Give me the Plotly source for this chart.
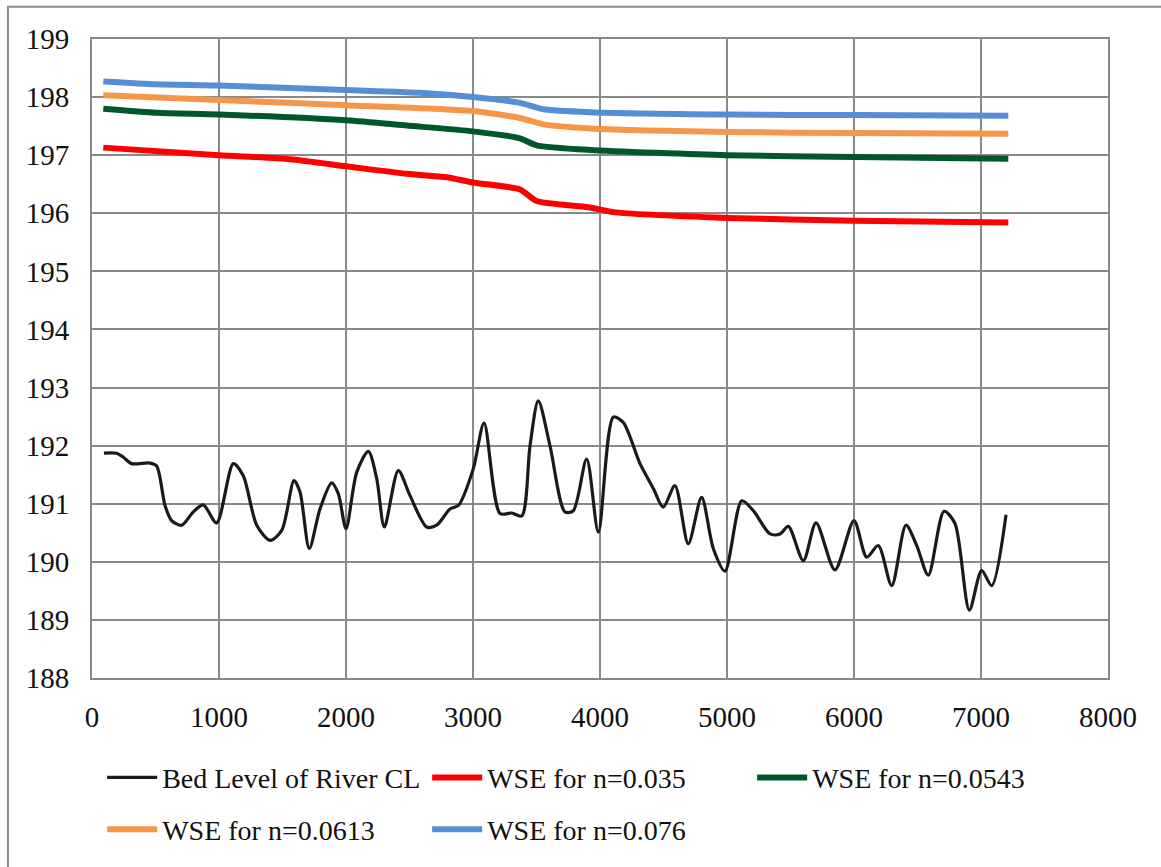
import plotly.graph_objects as go

# Chainage along the river centre line (m) and bed level (m)
bed_x = [94, 194, 247, 312, 457, 509, 575, 627, 706, 798, 876, 981, 1113, 1191,
         1297, 1402, 1494, 1591, 1638, 1711, 1795, 1887, 1940, 2000, 2084, 2176,
         2242, 2302, 2412, 2504, 2635, 2714, 2819, 2885, 3002, 3087, 3213, 3305,
         3384, 3449, 3514, 3606, 3724, 3790, 3895, 3987, 4105, 4183, 4315, 4420,
         4498, 4590, 4695, 4800, 4892, 4984, 5116, 5207, 5339, 5417, 5483, 5601,
         5701, 5850, 6000, 6100, 6191, 6297, 6409, 6494, 6585, 6709, 6795, 6908,
         7005, 7084, 7197]
bed_y = [191.87, 191.87, 191.80, 191.69, 191.70, 191.65, 190.97, 190.71, 190.63,
         190.86, 190.98, 190.67, 191.69, 191.48, 190.63, 190.37, 190.54, 191.40,
         191.20, 190.23, 190.91, 191.36, 191.17, 190.57, 191.54, 191.90, 191.43,
         190.60, 191.57, 191.14, 190.60, 190.63, 190.91, 190.97, 191.60, 192.39,
         190.83, 190.84, 190.79, 192.00, 192.77, 192.00, 190.86, 190.88, 191.77,
         190.51, 192.49, 192.40, 191.69, 191.26, 190.94, 191.31, 190.31, 191.11,
         190.23, 189.84, 191.05, 190.88, 190.48, 190.48, 190.61, 190.02, 190.67,
         189.86, 190.71, 190.08, 190.28, 189.59, 190.63, 190.28, 189.77, 190.87,
         190.66, 189.17, 189.85, 189.59, 190.81]

# Water surface elevation for each Manning's n
wse_035_x = [89, 1000, 1559, 2000, 2478, 2793, 3000, 3370, 3501, 3921, 4105, 5000, 6000, 7215]
wse_035_y = [197.13, 197.00, 196.93, 196.81, 196.68, 196.62, 196.53, 196.41, 196.21,
             196.10, 196.02, 195.92, 195.87, 195.84]

wse_0543_x = [89, 509, 1000, 2000, 2478, 3000, 3370, 3501, 3921, 5000, 6000, 7215]
wse_0543_y = [197.80, 197.73, 197.70, 197.60, 197.51, 197.41, 197.29, 197.17, 197.09,
              197.00, 196.97, 196.94]

wse_0613_x = [89, 1000, 2000, 3000, 3370, 3554, 3921, 5000, 6000, 7215]
wse_0613_y = [198.03, 197.95, 197.86, 197.76, 197.64, 197.53, 197.46, 197.40, 197.38, 197.37]

wse_076_x = [89, 509, 1000, 2000, 2609, 3000, 3370, 3554, 3921, 5000, 6000, 7215]
wse_076_y = [198.27, 198.22, 198.20, 198.12, 198.07, 198.00, 197.90, 197.79, 197.74,
             197.70, 197.69, 197.68]

x_ticks = [0, 1000, 2000, 3000, 4000, 5000, 6000, 7000, 8000]
y_ticks = [188, 189, 190, 191, 192, 193, 194, 195, 196, 197, 198, 199]

FONT = "Liberation Serif, Times New Roman, serif"
GRID = "#898989"
TEXT = "#111111"

fig = go.Figure()
fig.add_trace(go.Scatter(x=bed_x, y=bed_y, mode="lines", name="Bed Level of River CL",
                         line=dict(color="#1a1a1a", width=3.2, shape="spline", smoothing=0.8),
                         legend="legend"))
fig.add_trace(go.Scatter(x=wse_035_x, y=wse_035_y, mode="lines", name="WSE for n=0.035",
                         line=dict(color="#ff0000", width=6, shape="spline", smoothing=0.6),
                         legend="legend"))
fig.add_trace(go.Scatter(x=wse_0543_x, y=wse_0543_y, mode="lines", name="WSE for n=0.0543",
                         line=dict(color="#00582a", width=6, shape="spline", smoothing=0.6),
                         legend="legend"))
fig.add_trace(go.Scatter(x=wse_0613_x, y=wse_0613_y, mode="lines", name="WSE for n=0.0613",
                         line=dict(color="#f79646", width=6, shape="spline", smoothing=0.6),
                         legend="legend2"))
fig.add_trace(go.Scatter(x=wse_076_x, y=wse_076_y, mode="lines", name="WSE for n=0.076",
                         line=dict(color="#558ed5", width=6, shape="spline", smoothing=0.6),
                         legend="legend2"))

legend_common = dict(orientation="h", xanchor="left", yanchor="middle",
                     font=dict(family=FONT, size=28, color=TEXT),
                     entrywidth=260, entrywidthmode="pixels", itemwidth=50,
                     bgcolor="rgba(0,0,0,0)", traceorder="normal")

fig.update_layout(
    width=1161, height=867,
    margin=dict(l=92, r=53, t=39, b=187),
    paper_bgcolor="white", plot_bgcolor="white",
    font=dict(family=FONT, size=28, color=TEXT),
    showlegend=True,
    legend=dict(x=0.010, y=-0.156, **legend_common),
    legend2=dict(x=0.010, y=-0.237, **legend_common),
    xaxis=dict(range=[0, 8000], tickvals=x_ticks, ticktext=[str(v) for v in x_ticks],
               showgrid=True, gridcolor=GRID, gridwidth=2,
               showline=True, linecolor=GRID, linewidth=2, mirror=True,
               zeroline=False, ticks="", ticklabelstandoff=12,
               tickfont=dict(family=FONT, size=29, color=TEXT)),
    yaxis=dict(range=[188, 199], tickvals=y_ticks, ticktext=[str(v) for v in y_ticks],
               showgrid=True, gridcolor=GRID, gridwidth=2,
               showline=True, linecolor=GRID, linewidth=2, mirror=True,
               zeroline=False, ticks="", ticklabelstandoff=15,
               tickfont=dict(family=FONT, size=29, color=TEXT)),
    shapes=[dict(type="rect", xref="paper", yref="paper",
                 x0=-0.0827, x1=1.2, y0=-0.4, y1=1.0504,
                 line=dict(color="#8c8c8c", width=2), fillcolor="rgba(0,0,0,0)",
                 layer="below")],
)

fig.write_html("out.html")
